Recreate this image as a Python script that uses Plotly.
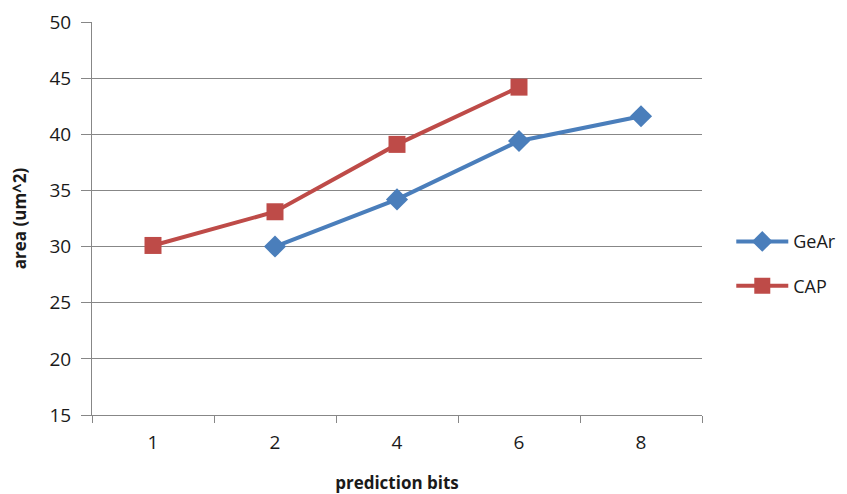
import plotly.graph_objects as go

# Prediction bits (categorical x axis) and area per design
bits = ["1", "2", "4", "6", "8"]
gear_area = [None, 30.0, 34.2, 39.4, 41.6]
cap_area = [30.1, 33.1, 39.1, 44.2, None]

y_ticks = [15, 20, 25, 30, 35, 40, 45, 50]

BLUE = "#4A7EBB"
RED = "#BE4B48"
GRID = "#878787"
TEXT = "#1a1a1a"
FONT = "Open Sans, Liberation Sans, sans-serif"

fig = go.Figure()
fig.add_trace(go.Scatter(
    x=bits, y=gear_area, name="GeAr", mode="lines+markers",
    line=dict(color=BLUE, width=4),
    marker=dict(symbol="diamond", size=17, color=BLUE),
    legendgroup="g1",
))
fig.add_trace(go.Scatter(
    x=bits, y=cap_area, name="CAP", mode="lines+markers",
    line=dict(color=RED, width=4),
    marker=dict(symbol="square", size=17, color=RED),
    legendgroup="g2",
))

fig.update_layout(
    width=847, height=494,
    margin=dict(l=92, r=145, t=22, b=79, autoexpand=False),
    paper_bgcolor="white", plot_bgcolor="white",
    font=dict(family=FONT, size=18, color=TEXT),
    showlegend=True,
    legend=dict(
        x=1.048, y=0.385, xanchor="left", yanchor="middle",
        font=dict(size=18, color=TEXT),
        tracegroupgap=18, itemwidth=52,
        bgcolor="rgba(0,0,0,0)",
    ),
    xaxis=dict(
        type="category", categoryorder="array", categoryarray=bits,
        range=[-0.5, 4.5],
        tickson="boundaries", ticks="outside", ticklen=7,
        tickcolor=GRID, tickwidth=1,
        showline=True, linecolor=GRID, linewidth=1,
        showgrid=False, zeroline=False,
        tickfont=dict(size=19, color=TEXT),
        ticklabelstandoff=10,
        title=dict(text="<b>prediction bits</b>", font=dict(size=17), standoff=24),
    ),
    yaxis=dict(
        range=[15, 50], tickvals=y_ticks,
        ticks="outside", ticklen=10, tickcolor=GRID, tickwidth=1,
        showline=True, linecolor=GRID, linewidth=1,
        showgrid=True, gridcolor=GRID, gridwidth=1,
        zeroline=False,
        tickfont=dict(size=19, color=TEXT),
        ticklabelstandoff=6,
        title=dict(text="<b>area (um^2)</b>", font=dict(size=17), standoff=18),
    ),
)

fig.write_html("out.html")
